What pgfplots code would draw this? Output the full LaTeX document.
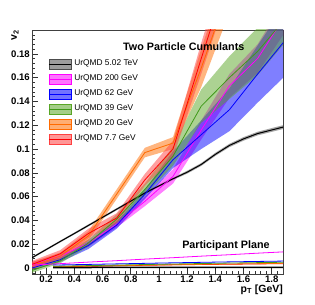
\documentclass[border=0pt]{standalone}
\usepackage{pgfplots}
\usepackage{pgfplotstable}
\pgfplotsset{compat=1.18}
\usepgfplotslibrary{fillbetween}
\usepackage{fontspec}
\setmainfont{Liberation Sans}

\definecolor{cmag}{rgb}{1,0,1}
\definecolor{cblue}{rgb}{0,0,1}
\definecolor{cgreenl}{rgb}{0.25,0.6,0.1}
\definecolor{cgreenf}{rgb}{0.35,0.65,0.15}
\definecolor{corange}{rgb}{1,0.42,0}
\definecolor{cred}{rgb}{1,0,0}

\pgfplotstableread{
x y e
0.1 0.0087 0.0008
0.2 0.0155 0.0008
0.3 0.0223 0.0008
0.4 0.0290 0.0008
0.5 0.0358 0.0009
0.6 0.0426 0.0009
0.7 0.0494 0.0009
0.8 0.0562 0.0010
0.9 0.0630 0.0010
1.0 0.0690 0.0010
1.1 0.0750 0.0010
1.2 0.0805 0.0012
1.3 0.0870 0.0012
1.4 0.0955 0.0013
1.5 0.1030 0.0014
1.6 0.1085 0.0015
1.7 0.1130 0.0015
1.8 0.1160 0.0016
1.9 0.1190 0.0016
}\tblack

\pgfplotstableread{
x y e
0.1 0.003 0.002
0.3 0.010 0.002
0.5 0.021 0.003
0.7 0.037 0.003
0.9 0.056 0.004
1.1 0.077 0.006
1.3 0.116 0.008
1.5 0.153 0.010
1.7 0.176 0.012
1.9 0.213 0.014
}\tmag

\pgfplotstableread{
x y e
0.1 0.000 0.002
0.3 0.007 0.002
0.5 0.019 0.003
0.7 0.036 0.003
0.9 0.062 0.004
1.1 0.091 0.007
1.3 0.112 0.012
1.5 0.133 0.018
1.7 0.163 0.024
1.9 0.192 0.030
}\tblue

\pgfplotstableread{
x y e
0.1 -0.002 0.002
0.3 0.006 0.002
0.5 0.021 0.003
0.7 0.041 0.004
0.9 0.066 0.005
1.1 0.094 0.008
1.3 0.136 0.014
1.5 0.160 0.018
1.7 0.182 0.020
1.9 0.210 0.020
}\tgreen

\pgfplotstableread{
x y e
0.1 0.002 0.003
0.3 0.010 0.003
0.5 0.027 0.004
0.7 0.062 0.004
0.9 0.097 0.004
1.1 0.105 0.005
1.3 0.168 0.016
1.5 0.235 0.020
}\torange

\pgfplotstableread{
x y e
0.1 0.003 0.003
0.3 0.012 0.003
0.5 0.029 0.004
0.7 0.042 0.004
0.9 0.074 0.005
1.1 0.100 0.007
1.3 0.176 0.013
1.5 0.250 0.016
}\tred

\newcommand{\band}[3]{%
  \addplot[name path=#1u, draw=none, forget plot] table[x=x, y expr=\thisrow{y}+\thisrow{e}] {#2};
  \addplot[name path=#1l, draw=none, forget plot] table[x=x, y expr=\thisrow{y}-\thisrow{e}] {#2};
  \addplot[#3, fill opacity=0.5, draw=none, forget plot] fill between[of=#1u and #1l];
}
\newcommand{\legimg}[2]{%
  \addlegendimage{legend image code/.code={%
    \fill[#1, fill opacity=0.55] (0bp,-5bp) rectangle (22bp,5bp);
    \draw[#2, line width=1bp] (0bp,0bp) -- (22bp,0bp);}}}

\begin{document}
\begin{tikzpicture}
\begin{axis}[
  at={(32bp,31bp)}, anchor=south west,
  scale only axis, width=251bp, height=244bp,
  xmin=0.1, xmax=1.88, ymin=-0.005, ymax=0.2,
  xtick={0.2,0.4,0.6,0.8,1,1.2,1.4,1.6,1.8},
  minor xtick={0.12,0.16,0.24,0.28,0.32,0.36,0.44,0.48,0.52,0.56,0.64,0.68,0.72,0.76,0.84,0.88,0.92,0.96,1.04,1.08,1.12,1.16,1.24,1.28,1.32,1.36,1.44,1.48,1.52,1.56,1.64,1.68,1.72,1.76,1.84},
  ytick={0,0.02,0.04,0.06,0.08,0.1,0.12,0.14,0.16,0.18},
  minor ytick={-0.004,0.004,0.008,0.012,0.016,0.024,0.028,0.032,0.036,0.044,0.048,0.052,0.056,0.064,0.068,0.072,0.076,0.084,0.088,0.092,0.096,0.104,0.108,0.112,0.116,0.124,0.128,0.132,0.136,0.144,0.148,0.152,0.156,0.164,0.168,0.172,0.176,0.184,0.188,0.192,0.196},
  xtick pos=bottom, ytick pos=left,
  tick align=inside,
  major tick length=6bp, minor tick length=3bp,
  tick style={black!80, line width=0.5bp},
  axis line style={black!75, line width=0.7bp},
  /pgf/number format/assume math mode=true,
  /pgf/number format/fixed, /pgf/number format/precision=3,
  ticklabel style={font=\bfseries\fontsize{9.6}{10}\selectfont},
  xticklabel style={inner sep=1bp, yshift=-0.5bp},
  yticklabel style={inner sep=2bp},
  xlabel={p$_{\mathbf{T}}$ [GeV]},
  ylabel={v$_{\mathbf{2}}$},
  xlabel style={at={(rel axis cs:1,0)}, anchor=north east, inner sep=0pt, yshift=-10.5bp, font=\bfseries\fontsize{10.5}{11}\selectfont},
  ylabel style={at={(rel axis cs:-0.06,1)}, anchor=base east, inner sep=0pt, font=\bfseries\fontsize{10.5}{11}\selectfont},
  legend style={at={(rel axis cs:0.064,0.881)}, anchor=north west, draw=none, fill=none, inner sep=0pt,
    font=\fontsize{8.4}{9}\selectfont, row sep=4.6bp,
    nodes={inner sep=0pt, text height=6.5bp, text depth=3.5bp},
    /tikz/every odd column/.append style={column sep=3bp}},
  legend cell align=left,
]
\band{bk}{\tblack}{black!70}
\band{mg}{\tmag}{cmag}
\band{bl}{\tblue}{cblue}
\band{gr}{\tgreen}{cgreenf}
\band{or}{\torange}{corange}
\band{rd}{\tred}{cred!75}

\addplot[black, line width=1bp, forget plot] table[x=x,y=y] {\tblack};
\addplot[cmag, line width=0.8bp, forget plot] table[x=x,y=y] {\tmag};
\addplot[cblue, line width=0.8bp, forget plot] table[x=x,y=y] {\tblue};
\addplot[cgreenl, line width=0.8bp, forget plot] table[x=x,y=y] {\tgreen};
\addplot[corange, line width=0.8bp, forget plot] table[x=x,y=y] {\torange};
\addplot[cred, line width=0.8bp, forget plot] table[x=x,y=y] {\tred};

% participant plane
\addplot[cmag, line width=0.8bp, forget plot] coordinates {(0.1,0.0025) (0.3,0.0037) (0.5,0.005) (0.7,0.0062) (0.9,0.0075) (1.1,0.0087) (1.3,0.01) (1.5,0.0112) (1.7,0.0125) (1.9,0.0137)};
\addplot[cred, line width=0.8bp, forget plot] coordinates {(0.25,0.001) (0.7,0.0019) (1.1,0.0027) (1.5,0.0032) (1.9,0.0037)};
\addplot[corange, line width=0.8bp, forget plot] coordinates {(0.25,0.0012) (0.7,0.002) (1.1,0.0028) (1.5,0.0034) (1.9,0.0040)};
\addplot[cgreenl, line width=0.8bp, forget plot] coordinates {(0.25,0.0015) (0.7,0.0025) (1.1,0.0034) (1.5,0.0042) (1.9,0.0049)};
\addplot[cblue, line width=0.8bp, forget plot] coordinates {(0.25,0.0025) (0.7,0.0035) (1.1,0.0044) (1.5,0.0052) (1.9,0.0059)};
\addplot[black, line width=1.5bp, forget plot] coordinates {(0.25,0.0004) (0.7,0.0005) (1.1,0.0005) (1.5,0.0006) (1.9,0.0006)};

\legimg{black!70}{black}\addlegendentry{UrQMD 5.02 TeV}
\legimg{cmag}{cmag}\addlegendentry{UrQMD 200 GeV}
\legimg{cblue}{cblue}\addlegendentry{UrQMD 62 GeV}
\legimg{cgreenf}{cgreenl}\addlegendentry{UrQMD 39 GeV}
\legimg{corange}{corange}\addlegendentry{UrQMD 20 GeV}
\legimg{cred!75}{cred}\addlegendentry{UrQMD 7.7 GeV}

\node[anchor=base west, inner sep=0pt, font=\bfseries\fontsize{10.8}{12}\selectfont] at (rel axis cs:0.3625,0.918) {Two Particle Cumulants};
\node[anchor=base west, inner sep=0pt, font=\bfseries\fontsize{10.8}{12}\selectfont] at (rel axis cs:0.598,0.105) {Participant Plane};
\end{axis}
\path (0,0) rectangle (315bp,305bp);
\end{tikzpicture}
\end{document}
